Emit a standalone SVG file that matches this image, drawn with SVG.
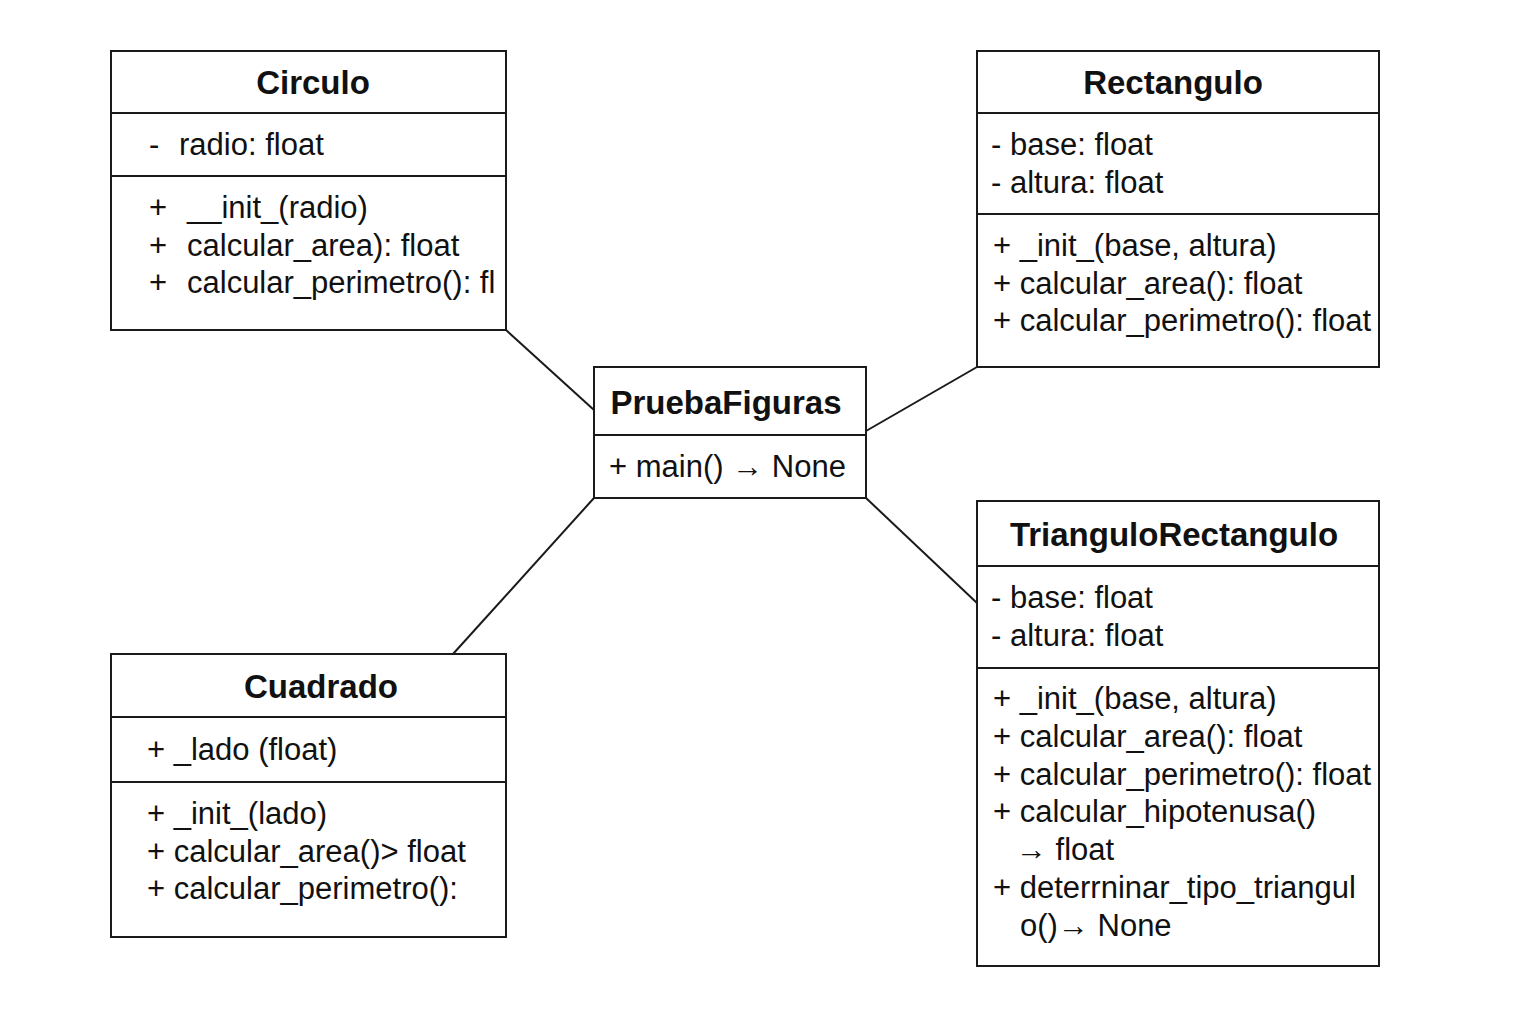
<svg xmlns="http://www.w3.org/2000/svg" width="1536" height="1024" viewBox="0 0 1536 1024">
<style>
.box{fill:#fff;stroke:#1a1a1a;stroke-width:2}
.div{stroke:#1a1a1a;stroke-width:2}
.conn{stroke:#1a1a1a;stroke-width:2;fill:none}
.t{font-family:"Liberation Sans",Arial,sans-serif;font-size:33px;font-weight:bold;fill:#111;text-anchor:middle}
.b{font-family:"Liberation Sans",Arial,sans-serif;font-size:31px;fill:#111}
</style>
<rect width="1536" height="1024" fill="#fff"/>
<g id="connectors">
<line class="conn" x1="506" y1="330" x2="594" y2="410"/>
<line class="conn" x1="977" y1="367" x2="866" y2="431"/>
<line class="conn" x1="594" y1="498" x2="453" y2="654"/>
<line class="conn" x1="866" y1="498" x2="977" y2="603"/>
</g>
<g id="Circulo">
<rect class="box" x="111" y="51" width="395" height="279"/>
<line class="div" x1="111" y1="113" x2="506" y2="113"/>
<line class="div" x1="111" y1="176" x2="506" y2="176"/>
<text class="t" x="313" y="94">Circulo</text>
<text class="b" x="149" y="155">-</text><text class="b" x="179" y="155">radio: float</text>
<text class="b" x="149" y="218">+</text><text class="b" x="187" y="218">__init_(radio)</text>
<text class="b" x="149" y="256">+</text><text class="b" x="187" y="256">calcular_area): float</text>
<text class="b" x="149" y="293">+</text><text class="b" x="187" y="293">calcular_perimetro(): fl</text>
</g>
<g id="Rectangulo">
<rect class="box" x="977" y="51" width="402" height="316"/>
<line class="div" x1="977" y1="113" x2="1379" y2="113"/>
<line class="div" x1="977" y1="214" x2="1379" y2="214"/>
<text class="t" x="1173" y="94">Rectangulo</text>
<text class="b" x="991" y="155">- base: float</text>
<text class="b" x="991" y="193">- altura: float</text>
<text class="b" x="993" y="256">+ _init_(base, altura)</text>
<text class="b" x="993" y="294">+ calcular_area(): float</text>
<text class="b" x="993" y="331">+ calcular_perimetro(): float</text>
</g>
<g id="PruebaFiguras">
<rect class="box" x="594" y="367" width="272" height="131"/>
<line class="div" x1="594" y1="435" x2="866" y2="435"/>
<text class="t" x="726" y="414">PruebaFiguras</text>
<text class="b" x="609" y="477">+ main() → None</text>
</g>
<g id="Cuadrado">
<rect class="box" x="111" y="654" width="395" height="283"/>
<line class="div" x1="111" y1="717" x2="506" y2="717"/>
<line class="div" x1="111" y1="782" x2="506" y2="782"/>
<text class="t" x="321" y="698">Cuadrado</text>
<text class="b" x="147" y="760">+ _lado (float)</text>
<text class="b" x="147" y="824">+ _init_(lado)</text>
<text class="b" x="147" y="862">+ calcular_area()&gt; float</text>
<text class="b" x="147" y="899">+ calcular_perimetro():</text>
</g>
<g id="TrianguloRectangulo">
<rect class="box" x="977" y="501" width="402" height="465"/>
<line class="div" x1="977" y1="566" x2="1379" y2="566"/>
<line class="div" x1="977" y1="668" x2="1379" y2="668"/>
<text class="t" x="1174" y="546">TrianguloRectangulo</text>
<text class="b" x="991" y="608">- base: float</text>
<text class="b" x="991" y="646">- altura: float</text>
<text class="b" x="993" y="709">+ _init_(base, altura)</text>
<text class="b" x="993" y="747">+ calcular_area(): float</text>
<text class="b" x="993" y="785">+ calcular_perimetro(): float</text>
<text class="b" x="993" y="822">+ calcular_hipotenusa()</text>
<text class="b" x="1016" y="860">→ float</text>
<text class="b" x="993" y="898">+ deterrninar_tipo_triangul</text>
<text class="b" x="1020" y="936">o()→ None</text>
</g>
</svg>
